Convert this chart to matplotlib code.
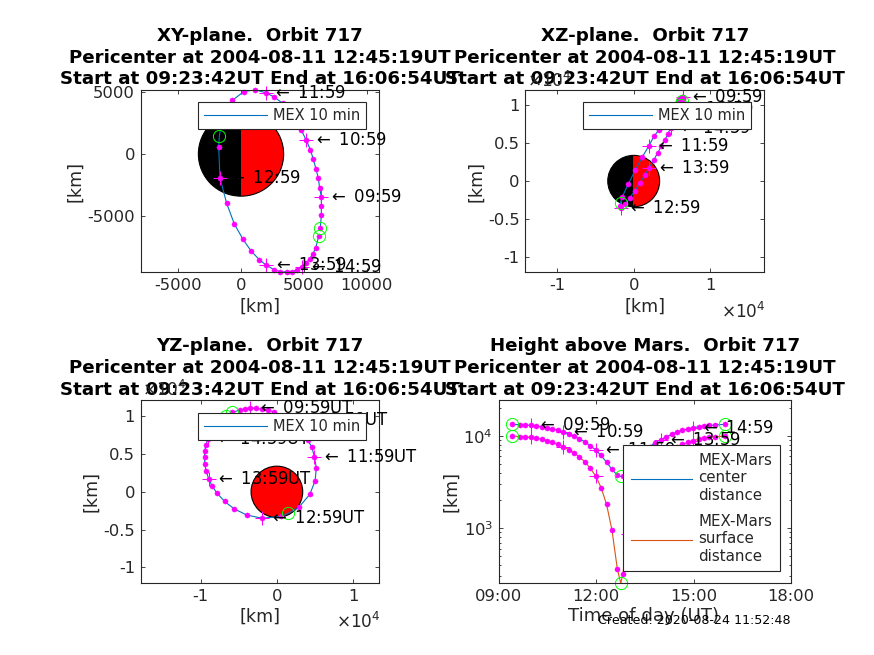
import matplotlib
matplotlib.use("Agg")
import matplotlib.pyplot as plt
import numpy as np
from matplotlib.patches import Circle, Wedge
from matplotlib.ticker import LogLocator, NullFormatter, FixedLocator

plt.rcParams['font.family'] = ['DejaVu Sans']
plt.rcParams['axes.unicode_minus'] = False
plt.rcParams['mathtext.fontset'] = 'cm'
plt.rcParams['mathtext.default'] = 'regular'

W, H = 874, 655
DARK = '#262626'
BLUE = '#0072BD'
ORANGE = '#D95319'
MARS_R = 3390

times = ['09:23:42', '09:39', '09:49', '09:59', '10:09', '10:19', '10:29', '10:39', '10:49', '10:59',
         '11:09', '11:19', '11:29', '11:39', '11:49', '11:59', '12:09', '12:19', '12:29', '12:39',
         '12:49', '12:59', '13:09', '13:19', '13:29', '13:39', '13:49', '13:59', '14:09', '14:19',
         '14:29', '14:39', '14:49', '14:59', '15:09', '15:19', '15:29', '15:39', '15:57']
x_km = [6307, 6387, 6387, 6387, 6254, 6148, 5963, 5751, 5512, 5194,
        4797, 4373, 3896, 3313, 2650, 1961, 1113, 212, -689, -1484,
        -1776, -1670, -1140, -530, 159, 822, 1458, 2014, 2624, 3127,
        3631, 4081, 4479, 4823, 5168, 5459, 5724, 5936, 6175]
y_km = [-5923, -4904, -4208, -3484, -2734, -1956, -1206, -429, 348, 1099,
        1903, 2680, 3404, 4074, 4583, 4931, 5172, 5012, 4315, 2868,
        563, -1930, -3966, -5628, -6861, -7826, -8496, -8951, -9300, -9470,
        -9480, -9460, -9300, -9058, -8764, -8442, -8013, -7558, -6620]
z_km = [10500, 10800, 10960, 11100, 11050, 10900, 10830, 10570, 10000, 9500,
        8900, 8300, 7600, 6800, 5900, 4600, 3160, 1450, -350, -2060,
        -3250, -3500, -3070, -2240, -1270, -220, 750, 1750, 2760, 3730,
        4600, 5440, 6230, 7000, 7700, 8400, 9000, 9500, 10000]
alt_km = [10000, 9880, 9780, 9673, 9435, 9203, 8900, 8540, 8120, 7660,
          7110, 6600, 5920, 5270, 4460, 3690, 2760, 1820, 958, 360,
          316, 861, 1620, 2600, 3500, 4300, 5070, 5730, 6360, 7040,
          7660, 8140, 8520, 8910, 9220, 9540, 9670, 9770, 10000]
center_km = [13390, 13270, 13170, 13063, 12825, 12593, 12290, 11930, 11510, 11050,
             10500, 9990, 9310, 8660, 7850, 7080, 6150, 5210, 4348, 3750,
             3706, 4251, 5010, 5990, 6890, 7690, 8460, 9120, 9750, 10430,
             11050, 11530, 11910, 12300, 12610, 12930, 13060, 13160, 13390]

peri_time = '12:45:19'
peri_x, peri_y, peri_z, peri_alt, peri_center = -1720, 1470, -2850, 253, 3643

hour_times = ['09:59', '10:59', '11:59', '12:59', '13:59', '14:59']
title_lines = ['Pericenter at 2004-08-11 12:45:19UT', 'Start at 09:23:42UT End at 16:06:54UT']
created = 'Created: 2020-08-24 11:52:48'


def to_hours(s):
    parts = [float(p) for p in s.split(':')]
    return parts[0] + parts[1] / 60 + (parts[2] / 3600 if len(parts) > 2 else 0)


hours = np.array([to_hours(t) for t in times])
peri_h = to_hours(peri_time)
peri_i = int(np.searchsorted(hours, peri_h))
hour_idx = [times.index(t) for t in hour_times]


def with_peri(a, p):
    return np.insert(np.asarray(a, float), peri_i, p)


def make_ax(l, r, t, b):
    ax = fig.add_axes([l / W, 1 - b / H, (r - l) / W, (b - t) / H])
    ax.tick_params(which='both', direction='in', top=True, right=True, length=2.6, width=0.6,
                   colors=DARK, labelsize=11.8, pad=4)
    ax.tick_params(which='minor', length=1.6)
    for s in ax.spines.values():
        s.set_linewidth(0.8)
        s.set_color(DARK)
    return ax


def titles(ax, first):
    ax.set_title('\n'.join([first] + title_lines), fontsize=13.15, fontweight='bold', color='black',
                 pad=3.6, linespacing=1.28)


def labels(ax, xl, xpx, xpy, ypx, ypy, xsize=12.6):
    ax.set_xlabel(xl, fontsize=xsize, color=DARK, va='center', ha='center')
    ax.set_ylabel('[km]', fontsize=12.6, color=DARK, va='center', ha='center')
    ax.xaxis.set_label_coords(xpx / W, 1 - xpy / H, transform=fig.transFigure)
    ax.yaxis.set_label_coords(ypx / W, 1 - ypy / H, transform=fig.transFigure)


def marks(ax, a, b, pa, pb, line_color=BLUE, label=None):
    la, lb = with_peri(a, pa), with_peri(b, pb)
    ax.plot(la, lb, color=line_color, lw=0.8, label=label, zorder=2.2)
    a, b = np.asarray(a, float), np.asarray(b, float)
    ax.plot(a, b, ls='none', marker='o', ms=3.7, mfc='magenta', mec='magenta', mew=0.3, clip_on=False, zorder=2.4)
    ax.plot(a[hour_idx], b[hour_idx], ls='none', marker='+', ms=9.8, mec='magenta', mew=0.75, clip_on=False, zorder=2.4)
    ends = [a[0], pa, a[-1]], [b[0], pb, b[-1]]
    ax.plot(ends[0], ends[1], ls='none', marker='o', ms=8.8, mfc='none', mec='#00ff00', mew=0.7, clip_on=False, zorder=2.5)


def tags(ax, a, b, suffix=''):
    for i, name in zip(hour_idx, hour_times):
        ax.annotate(r'$\leftarrow$ ' + name + suffix, (a[i], b[i]), xytext=(5.4, 0), textcoords='offset points',
                    fontsize=11.9, color='black', va='center', ha='left', annotation_clip=False, zorder=3)


def legend(ax, l, r, t, b, hl, size=10.5, **kw):
    ax.legend(loc='center', bbox_to_anchor=((l + r) / 2 / W, 1 - (t + b) / 2 / H), bbox_transform=fig.transFigure,
              fancybox=False, framealpha=1, edgecolor=DARK, borderaxespad=0, handlelength=hl,
              fontsize=size, labelcolor=DARK, handletextpad=0.4, **kw).get_frame().set_linewidth(0.8)


def mars(ax, half):
    if half:
        ax.add_patch(Wedge((0, 0), MARS_R, 90, 270, fc='black', ec='none', zorder=1))
        ax.add_patch(Wedge((0, 0), MARS_R, -90, 90, fc='red', ec='none', zorder=1))
        ax.add_patch(Circle((0, 0), MARS_R, fc='none', ec='black', lw=0.8, zorder=1.1))
    else:
        ax.add_patch(Circle((0, 0), MARS_R, fc='red', ec='black', lw=0.8, zorder=1))


def scale_ticks(ax):
    ax.set_xticks([-10000, 0, 10000], ['-1', '0', '1'])
    ax.set_yticks([-10000, -5000, 0, 5000, 10000], ['-1', '-0.5', '0', '0.5', '1'])


def offset(px, py):
    fig.text(px / W, 1 - py / H, r'$\times$10$^{4}$', fontsize=12.2, color=DARK, ha='left', va='center', zorder=10)


fig = plt.figure(figsize=(W / 100, H / 100), dpi=100)

# XY
ax = make_ax(140.5, 379, 89.5, 272)
mars(ax, True)
marks(ax, x_km, y_km, peri_x, peri_y, label='MEX 10 min')
tags(ax, x_km, y_km)
ax.set_xlim(-7990, 10970)
ax.set_ylim(-9490, 5190)
ax.set_xticks([-5000, 0, 5000, 10000], ['-5000', '0', '5000', '10000'])
ax.set_yticks([-5000, 0, 5000], ['-5000', '0', '5000'])
titles(ax, 'XY-plane.  Orbit 717')
labels(ax, '[km]', 260, 307, 75, 181)
legend(ax, 197.3, 366.7, 102.3, 128.3, 4.3)

# XZ
ax = make_ax(525.3, 764.3, 89.5, 272)
mars(ax, True)
marks(ax, x_km, z_km, peri_x, peri_z, label='MEX 10 min')
tags(ax, x_km, z_km)
ax.set_xlim(-14170, 17070)
ax.set_ylim(-12000, 12080)
scale_ticks(ax)
titles(ax, 'XZ-plane.  Orbit 717')
labels(ax, '[km]', 645, 307, 476, 181)
legend(ax, 582.5, 751.5, 102.3, 128.3, 4.3)
offset(527, 81)
offset(721, 312)

# YZ
ax = make_ax(140.5, 379, 400.3, 583.3)
mars(ax, False)
marks(ax, y_km, z_km, peri_y, peri_z, label='MEX 10 min')
tags(ax, y_km, z_km, 'UT')
ax.set_xlim(-17900, 13400)
ax.set_ylim(-12100, 12100)
scale_ticks(ax)
titles(ax, 'YZ-plane.  Orbit 717')
labels(ax, '[km]', 260, 617, 91, 492)
legend(ax, 197.3, 366.7, 413.5, 439.5, 4.3)
offset(142, 390)
offset(336, 622)

# Height
ax = make_ax(498.7, 791.3, 400.3, 583.3)
marks(ax, hours, center_km, peri_h, peri_center, BLUE, 'MEX-Mars\ncenter\ndistance')
marks(ax, hours, alt_km, peri_h, peri_alt, ORANGE, 'MEX-Mars\nsurface\ndistance')
tags(ax, hours, center_km)
ax.set_yscale('log')
ax.set_xlim(9, 18)
ax.set_ylim(253, 24400)
ax.set_xticks([9, 12, 15, 18], ['09:00', '12:00', '15:00', '18:00'])
ax.xaxis.set_minor_locator(FixedLocator([]))
ax.yaxis.set_major_locator(LogLocator(base=10, numticks=6))
ax.yaxis.set_minor_locator(LogLocator(base=10, subs=np.arange(2, 10), numticks=12))
ax.yaxis.set_minor_formatter(NullFormatter())
titles(ax, 'Height above Mars.  Orbit 717')
labels(ax, 'Time of day (UT)', 644, 616, 451, 492, xsize=13.1)
legend(ax, 624.3, 778.7, 446.3, 570.3, 4.1, size=10.8, labelspacing=0.75, borderpad=0.5)
fig.text(791 / W, 1 - 620 / H, created, fontsize=9.1, color='black', ha='right', va='center', zorder=10)

fig.savefig('out.png', dpi=100)
